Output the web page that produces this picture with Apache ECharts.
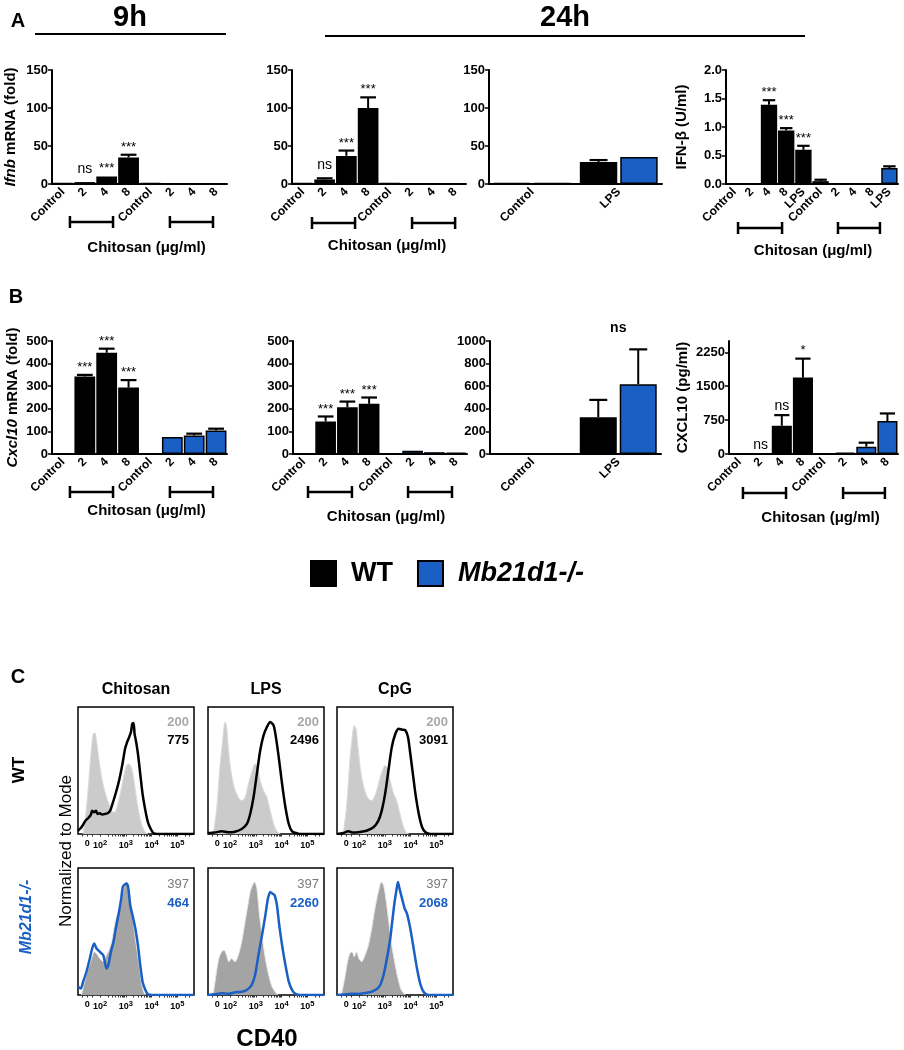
<!DOCTYPE html>
<html><head><meta charset="utf-8">
<script src="https://cdn.jsdelivr.net/npm/echarts@6/dist/echarts.min.js"></script>
<style>html,body{margin:0;padding:0;background:#fff}#c{width:904px;height:1050px}</style>
</head><body><div id="c"></div>
<script>
// ---------------- DATA ----------------
const catsDose = ['Control','2','4','8','Control','2','4','8'];
const catsDoseLPS = ['Control','2','4','8','LPS','Control','2','4','8','LPS'];
const catsCtrlLPS = ['Control','LPS'];

// A - Ifnb mRNA 9h
const ifnb9hWT     = [1, 2.5, 10, 35, '-', '-', '-', '-'];
const ifnb9hWTErr  = [1.2, 3, 11, 38.5, '-', '-', '-', '-'];
const ifnb9hKO     = ['-', '-', '-', '-', 1, 0.7, 0.7, 0.7];
const ifnb9hSig    = ['', 'ns', '***', '***', '', '', '', ''];
// A - Ifnb mRNA 24h chitosan
const ifnb24hWT    = [1, 6, 37, 100, '-', '-', '-', '-'];
const ifnb24hWTErr = [1.2, 7.5, 44, 114, '-', '-', '-', '-'];
const ifnb24hKO    = ['-', '-', '-', '-', 1, 0.7, 0.7, 0.7];
const ifnb24hSig   = ['', 'ns', '***', '***', '', '', '', ''];
// A - Ifnb mRNA 24h LPS
const ifnbLpsWT    = [1, 29];
const ifnbLpsWTErr = [1.2, 31.5];
const ifnbLpsKO    = [1, 35.5];
const ifnbLpsKOErr = [1.2, 36.3];
// A - IFN-beta protein
const ifnbProtWT    = [0, 0, 1.39, 0.94, 0.60, '-', '-', '-', '-', '-'];
const ifnbProtWTErr = [0, 0, 1.47, 0.98, 0.67, '-', '-', '-', '-', '-'];
const ifnbProtKO    = ['-', '-', '-', '-', '-', 0.05, 0, 0, 0, 0.28];
const ifnbProtKOErr = ['-', '-', '-', '-', '-', 0.075, 0, 0, 0, 0.31];
const ifnbProtSig   = ['', '', '***', '***', '***', '', '', '', '', ''];
// B - Cxcl10 mRNA 9h
const cxcl9hWT     = [2, 343, 448, 294, '-', '-', '-', '-'];
const cxcl9hWTErr  = [2, 350, 466, 327, '-', '-', '-', '-'];
const cxcl9hKO     = ['-', '-', '-', '-', 2, 75, 82, 104];
const cxcl9hKOErr  = ['-', '-', '-', '-', 2, 78, 90, 112];
const cxcl9hSig    = ['', '***', '***', '***', '', '', '', ''];
// B - Cxcl10 mRNA 24h chitosan
const cxcl24hWT    = [1, 144, 207, 222, '-', '-', '-', '-'];
const cxcl24hWTErr = [1, 166, 232, 250, '-', '-', '-', '-'];
const cxcl24hKO    = ['-', '-', '-', '-', 1, 14, 8, 6];
const cxcl24hKOErr = ['-', '-', '-', '-', 1, 17, 11, 8];
const cxcl24hSig   = ['', '***', '***', '***', '', '', '', ''];
// B - Cxcl10 mRNA 24h LPS
const cxclLpsWT    = [0, 326];
const cxclLpsWTErr = [0, 479];
const cxclLpsKO    = [0, 618];
const cxclLpsKOErr = [0, 926];
const cxclLpsSig   = ['', 'ns'];
// B - CXCL10 protein
const cxclProtWT    = [0, 0, 625, 1690, '-', '-', '-', '-'];
const cxclProtWTErr = [0, 0, 860, 2110, '-', '-', '-', '-'];
const cxclProtKO    = ['-', '-', '-', '-', 0, 30, 162, 728];
const cxclProtKOErr = ['-', '-', '-', '-', 0, 45, 250, 897];
const cxclProtSig   = ['', 'ns', 'ns', '*', '', '', '', ''];

// C - CD40 histograms: [log10 decade position, % of mode]
const histTickValues = [1.5, 2, 3, 4, 5];
const histTickLabels = ['0', '2', '3', '4', '5'];
const wtChitosanUnstim = [[1.34,0],[1.43,13.2],[1.54,36.8],[1.64,63.2],[1.73,78.9],[1.80,79.5],[1.86,73.7],[1.95,59.2],[2.06,44.7],[2.19,32.9],[2.32,25],[2.45,18.4],[2.56,17.1],[2.65,21.1],[2.78,31.6],[2.91,44.7],[3.00,52.6],[3.10,55.3],[3.21,52.6],[3.30,44.7],[3.41,28.9],[3.52,15.8],[3.63,6.6],[3.76,1.3],[3.86,0]];
const wtChitosanStim = [[1.14,2.6],[1.25,4.7],[1.34,7.4],[1.43,10.5],[1.54,12.6],[1.64,15.3],[1.69,18.4],[1.77,17.1],[1.84,18.4],[1.90,15.8],[1.99,16.3],[2.09,15.3],[2.19,15.8],[2.29,16.3],[2.39,18.4],[2.48,23.7],[2.58,30.3],[2.69,38.2],[2.78,46.1],[2.87,55.3],[2.97,67.1],[3.05,72.4],[3.13,76.3],[3.20,80.3],[3.25,86.8],[3.30,87.4],[3.34,78.9],[3.39,73.7],[3.47,63.2],[3.56,47.4],[3.65,31.6],[3.76,18.4],[3.86,9.2],[3.97,3.9],[4.08,0.5],[4.22,0],[5.65,0]];
const wtLpsUnstim = [[1.34,0],[1.47,18.4],[1.60,52.6],[1.71,73.7],[1.80,88.2],[1.86,85.5],[1.93,68.4],[2.03,50],[2.16,36.8],[2.32,28.9],[2.45,26.3],[2.58,28.9],[2.71,39.5],[2.84,48.7],[2.97,55.3],[3.08,52.6],[3.17,42.1],[3.30,34.2],[3.43,28.9],[3.56,18.4],[3.69,7.9],[3.82,2.1],[3.95,0]];
const wtLpsStim = [[1.14,0.5],[1.40,1.1],[1.67,2.1],[1.93,1.3],[2.19,1.8],[2.45,3.9],[2.65,7.9],[2.78,15.8],[2.91,28.9],[3.04,47.4],[3.17,65.8],[3.30,77.6],[3.43,84.2],[3.56,88.2],[3.69,85.5],[3.78,76.3],[3.89,60.5],[4.02,39.5],[4.15,21.1],[4.28,7.9],[4.41,2.1],[4.61,0.5],[4.80,0],[5.65,0]];
const wtCpgUnstim = [[1.38,0],[1.51,21.1],[1.64,57.9],[1.73,76.3],[1.81,85.5],[1.88,82.9],[1.97,65.8],[2.07,48.7],[2.20,35.5],[2.36,27.6],[2.49,26.3],[2.62,30.3],[2.75,39.5],[2.88,48.7],[3.01,53.9],[3.12,51.3],[3.21,42.1],[3.34,31.6],[3.44,27.6],[3.56,18.4],[3.69,7.9],[3.82,1.3],[3.93,0]];
const wtCpgStim = [[1.14,0],[1.38,0.8],[1.58,2.1],[1.77,1.1],[2.03,1.6],[2.29,2.6],[2.56,5.3],[2.75,10.5],[2.88,18.4],[3.01,31.6],[3.14,50],[3.27,68.4],[3.41,78.9],[3.54,82.9],[3.67,82.1],[3.80,81.6],[3.90,76.3],[3.99,63.2],[4.09,47.4],[4.19,31.6],[4.32,15.8],[4.45,5.3],[4.58,1.3],[4.78,0],[5.65,0]];
const koChitosanUnstim = [[1.27,0],[1.40,10.5],[1.54,20.9],[1.67,28.8],[1.77,34],[1.86,32.7],[1.99,28.8],[2.12,26.2],[2.25,31.4],[2.32,34],[2.45,41.9],[2.56,55],[2.65,62.8],[2.74,65.4],[2.84,75.9],[2.95,86.4],[3.04,86.9],[3.13,81.2],[3.24,65.4],[3.37,44.5],[3.50,26.2],[3.60,10.5],[3.69,2.6],[3.76,0]];
const koChitosanStim = [[1.14,6.5],[1.25,5.2],[1.34,10.5],[1.47,18.3],[1.60,28.8],[1.69,36.6],[1.77,40.6],[1.86,36.6],[1.99,34],[2.12,31.4],[2.25,20.9],[2.32,23.6],[2.42,34],[2.52,41.9],[2.61,52.4],[2.71,62.8],[2.82,75.9],[2.88,85.1],[2.95,86.9],[3.04,87.7],[3.10,83.8],[3.17,70.7],[3.26,62.8],[3.37,52.4],[3.47,39.3],[3.56,23.6],[3.65,10.5],[3.76,3.9],[3.86,0.5],[4.02,0],[5.65,0]];
const koLpsUnstim = [[1.34,0],[1.47,18.3],[1.56,28.8],[1.67,34],[1.77,35.3],[1.86,31.4],[1.95,26.2],[2.06,28.8],[2.19,26.2],[2.32,31.4],[2.45,41.9],[2.58,57.6],[2.69,70.7],[2.78,81.2],[2.87,86.4],[2.95,89],[3.04,83.8],[3.13,65.4],[3.24,47.1],[3.37,28.8],[3.50,15.7],[3.63,6.5],[3.76,2.1],[3.86,0]];
const koLpsStim = [[1.14,0],[1.40,0.5],[1.67,1.3],[1.93,1],[2.19,2.1],[2.45,2.6],[2.65,3.9],[2.84,7.9],[2.97,15.7],[3.10,31.4],[3.24,47.1],[3.37,62.8],[3.47,75.9],[3.56,81.2],[3.65,79.8],[3.73,78.5],[3.82,70.7],[3.91,55],[4.02,39.3],[4.15,23.6],[4.28,10.5],[4.41,3.9],[4.54,1],[4.74,0],[5.65,0]];
const koCpgUnstim = [[1.31,0],[1.44,13.1],[1.55,26.2],[1.64,32.7],[1.73,34],[1.81,30.1],[1.90,34],[1.99,28.8],[2.10,26.2],[2.23,31.4],[2.36,39.3],[2.49,52.4],[2.59,65.4],[2.69,75.9],[2.78,83.8],[2.86,89],[2.95,86.4],[3.04,75.9],[3.14,60.2],[3.25,41.9],[3.38,26.2],[3.51,13.1],[3.64,3.9],[3.80,0]];
const koCpgStim = [[1.14,0],[1.44,0.5],[1.71,1],[1.97,0.8],[2.23,1.6],[2.49,2.6],[2.69,4.7],[2.82,7.9],[2.95,15.7],[3.08,28.8],[3.21,44.5],[3.30,60.2],[3.38,73.3],[3.44,81.2],[3.51,89],[3.57,83.8],[3.67,75.9],[3.77,68.1],[3.86,64.1],[3.99,52.4],[4.12,36.6],[4.25,20.9],[4.39,7.9],[4.52,2.1],[4.71,0],[5.65,0]];
const histTitles = ['Chitosan', 'LPS', 'CpG'];
const mfiWTUnstim = [200, 200, 200];
const mfiWTStim   = [775, 2496, 3091];
const mfiKOUnstim = [397, 397, 397];
const mfiKOStim   = [464, 2260, 2068];

// ---------------- STYLE / LAYOUT ----------------
const FF = '"Liberation Sans", Arial, Helvetica, sans-serif';
const BLACK = '#000000';
const BLUE = '#1a5fc4';
const chart = echarts.init(document.getElementById('c'), null, {renderer: 'canvas'});

const barGrids = [
  {left: 52,  top: 70,  width: 175, height: 114},
  {left: 292, top: 70,  width: 174, height: 114},
  {left: 489, top: 70,  width: 173, height: 114},
  {left: 726, top: 70,  width: 172, height: 114},
  {left: 52,  top: 341, width: 175, height: 113},
  {left: 293, top: 341, width: 174, height: 113},
  {left: 490, top: 341, width: 171, height: 113},
  {left: 729, top: 341, width: 169, height: 113}
];
const histGrids = [
  {left: 78,  top: 707, width: 116, height: 127},
  {left: 208, top: 707, width: 116, height: 127},
  {left: 337, top: 707, width: 116, height: 127},
  {left: 78,  top: 868, width: 116, height: 127},
  {left: 208, top: 868, width: 116, height: 127},
  {left: 337, top: 868, width: 116, height: 127}
];

const grids = [];
const xAxes = [];
const yAxes = [];
const series = [];
const graphics = [];

function catX(cats, nameCfg) {
  const ax = {
    type: 'category', data: cats, boundaryGap: true,
    axisLine: {lineStyle: {color: BLACK, width: 2}},
    axisTick: {alignWithLabel: true, length: 4, lineStyle: {color: BLACK, width: 1.5}},
    axisLabel: {rotate: 45, interval: 0, margin: 6, color: BLACK, fontWeight: 'bold', fontSize: 12, fontFamily: FF},
    splitLine: {show: false}
  };
  if (nameCfg) {
    Object.assign(ax, {
      name: 'Chitosan (\u03bcg/ml)', nameLocation: 'middle', nameGap: nameCfg.gap,
      nameTextStyle: {fontWeight: 'bold', fontSize: 15, fontFamily: FF, color: BLACK, padding: [0, 0, 0, nameCfg.shift || 0]}
    });
  }
  return ax;
}
function valY(min, max, interval, nameCfg, extra) {
  const ax = {
    type: 'value', min, max, interval,
    axisLine: {show: true, lineStyle: {color: BLACK, width: 2}},
    axisTick: {show: true, length: 4, lineStyle: {color: BLACK, width: 1.5}},
    axisLabel: {color: BLACK, fontWeight: 'bold', fontSize: 13, fontFamily: FF, margin: 4, formatter: v => String(v)},
    splitLine: {show: false}
  };
  if (nameCfg) {
    Object.assign(ax, {
      name: nameCfg.text, nameLocation: 'middle', nameGap: nameCfg.gap, nameRotate: 90,
      nameTextStyle: {fontWeight: 'bold', fontSize: 15, fontFamily: FF, color: BLACK,
        rich: {i: {fontStyle: 'italic', fontWeight: 'bold', fontSize: 15, fontFamily: FF, color: BLACK}}}
    });
  }
  if (extra) Object.assign(ax, extra);
  return ax;
}
function barS(name, gi, data, color, stack, gaps) {
  const s = {
    type: 'bar', name, xAxisIndex: gi, yAxisIndex: gi, data,
    itemStyle: {color, borderColor: BLACK, borderWidth: 1.5},
    barCategoryGap: gaps.cat, z: 2, silent: true
  };
  if (stack) s.stack = stack + '_' + gi;
  if (gaps.bar) s.barGap = gaps.bar;
  return s;
}
// error bars + significance marks
function errS(gi, vals, errs, sig, opt) {
  const data = [];
  vals.forEach((v, i) => { if (v !== '-') data.push([i, v, (errs && errs[i] !== '-') ? errs[i] : v]); });
  return {
    type: 'custom', xAxisIndex: gi, yAxisIndex: gi, data, z: 5, clip: false, silent: true,
    renderItem(params, api) {
      const i = api.value(0), v = api.value(1), e = api.value(2);
      const band = api.size([1, 0])[0];
      let bw = band * 0.95, off = 0;
      if (opt.pair) { bw = band * 0.9 / 2.08; off = opt.side * bw * 0.54; }
      const cx = api.coord([i, 0])[0];
      const x = cx + off;
      const yv = api.coord([i, v])[1], ye = api.coord([i, e])[1];
      const ch = [];
      if (ye < yv - 0.8) {
        ch.push({type: 'line', shape: {x1: x, y1: yv, x2: x, y2: ye}, style: {stroke: BLACK, lineWidth: 2}});
        const cw = Math.min(bw * 0.38, 9);
        ch.push({type: 'line', shape: {x1: x - cw, y1: ye, x2: x + cw, y2: ye}, style: {stroke: BLACK, lineWidth: 2.2}});
      }
      const s = sig ? sig[i] : '';
      if (s) {
        const isNs = s === 'ns';
        const font = (opt.boldSig ? 'bold ' : '') + (isNs ? '14px ' : '13px ') + FF;
        ch.push({type: 'text', x: opt.pair ? cx : x, y: ye - (opt.sigGap != null ? opt.sigGap : (isNs ? 6 : 1)),
          style: {text: s, fill: BLACK, font, align: 'center', verticalAlign: 'bottom', textAlign: 'center', textVerticalAlign: 'bottom'}});
      }
      return {type: 'group', children: ch};
    }
  };
}
// brackets under rotated dose labels (fractional category positions)
function bracketS(gi, spans, dy) {
  return {
    type: 'custom', xAxisIndex: gi, yAxisIndex: gi, data: spans.map(() => [0, 0]), z: 5, clip: false, silent: true,
    renderItem(params, api) {
      const br = spans[params.dataIndex];
      const band = api.size([1, 0])[0];
      const p0 = api.coord([0, 0]);
      const xa = p0[0] + br[0] * band, xb = p0[0] + br[1] * band, y = p0[1] + dy;
      const st = {stroke: BLACK, lineWidth: 2.5};
      return {type: 'group', children: [
        {type: 'line', shape: {x1: xa, y1: y, x2: xb, y2: y}, style: st},
        {type: 'line', shape: {x1: xa, y1: y - 6, x2: xa, y2: y + 6}, style: st},
        {type: 'line', shape: {x1: xb, y1: y - 6, x2: xb, y2: y + 6}, style: st}
      ]};
    }
  };
}

const gapSingle = {cat: '5%'};
const gapPair = {cat: '10%', bar: '8%'};

barGrids.forEach(g => grids.push(Object.assign({containLabel: false}, g)));
// ---- A1 ----
xAxes.push(catX(catsDose, {gap: 56, shift: 14}));
yAxes.push(valY(0, 150, 50, {text: '{i|Ifnb} mRNA (fold)', gap: 34}));
series.push(barS('WT', 0, ifnb9hWT, BLACK, 'g', gapSingle), barS('Mb21d1-/-', 0, ifnb9hKO, BLUE, 'g', gapSingle));
series.push(errS(0, ifnb9hWT, ifnb9hWTErr, ifnb9hSig, {}), bracketS(0, [[0.32, 2.29], [4.89, 6.86]], 38));
// ---- A2 ----
xAxes.push(catX(catsDose, {gap: 54, shift: 16}));
yAxes.push(valY(0, 150, 50));
series.push(barS('WT', 1, ifnb24hWT, BLACK, 'g', gapSingle), barS('Mb21d1-/-', 1, ifnb24hKO, BLUE, 'g', gapSingle));
series.push(errS(1, ifnb24hWT, ifnb24hWTErr, ifnb24hSig, {}), bracketS(1, [[0.42, 2.4], [5.02, 7.0]], 39));
// ---- A3 ----
xAxes.push(catX(catsCtrlLPS));
yAxes.push(valY(0, 150, 50));
series.push(barS('WT', 2, ifnbLpsWT, BLACK, null, gapPair), barS('Mb21d1-/-', 2, ifnbLpsKO, BLUE, null, gapPair));
series.push(errS(2, ifnbLpsWT, ifnbLpsWTErr, null, {pair: true, side: -1}), errS(2, ifnbLpsKO, ifnbLpsKOErr, null, {pair: true, side: 1}));
// ---- A4 ----
xAxes.push(catX(catsDoseLPS, {gap: 59, shift: 2}));
yAxes.push(valY(0, 2, 0.5, {text: 'IFN-\u03b2 (U/ml)', gap: 37}, {axisLabel: {color: BLACK, fontWeight: 'bold', fontSize: 13, fontFamily: FF, margin: 4, formatter: v => v.toFixed(1)}}));
series.push(barS('WT', 3, ifnbProtWT, BLACK, 'g', gapSingle), barS('Mb21d1-/-', 3, ifnbProtKO, BLUE, 'g', gapSingle));
series.push(errS(3, ifnbProtWT, ifnbProtWTErr, ifnbProtSig, {}), errS(3, ifnbProtKO, ifnbProtKOErr, null, {}), bracketS(3, [[0.2, 2.76], [6.01, 8.45]], 44));
// ---- B1 ----
xAxes.push(catX(catsDose, {gap: 49, shift: 14}));
yAxes.push(valY(0, 500, 100, {text: '{i|Cxcl10} mRNA (fold)', gap: 32}));
series.push(barS('WT', 4, cxcl9hWT, BLACK, 'g', gapSingle), barS('Mb21d1-/-', 4, cxcl9hKO, BLUE, 'g', gapSingle));
series.push(errS(4, cxcl9hWT, cxcl9hWTErr, cxcl9hSig, {}), errS(4, cxcl9hKO, cxcl9hKOErr, null, {}), bracketS(4, [[0.32, 2.29], [4.89, 6.86]], 38));
// ---- B2 ----
xAxes.push(catX(catsDose, {gap: 55, shift: 12}));
yAxes.push(valY(0, 500, 100));
series.push(barS('WT', 5, cxcl24hWT, BLACK, 'g', gapSingle), barS('Mb21d1-/-', 5, cxcl24hKO, BLUE, 'g', gapSingle));
series.push(errS(5, cxcl24hWT, cxcl24hWTErr, cxcl24hSig, {}), errS(5, cxcl24hKO, cxcl24hKOErr, null, {}), bracketS(5, [[0.19, 2.21], [4.79, 6.81]], 38));
// ---- B3 ----
xAxes.push(catX(catsCtrlLPS));
yAxes.push(valY(0, 1000, 200));
series.push(barS('WT', 6, cxclLpsWT, BLACK, null, gapPair), barS('Mb21d1-/-', 6, cxclLpsKO, BLUE, null, gapPair));
series.push(errS(6, cxclLpsWT, cxclLpsWTErr, null, {pair: true, side: -1}), errS(6, cxclLpsKO, cxclLpsKOErr, cxclLpsSig, {pair: true, side: 1, boldSig: true, sigGap: 14}));
// ---- B4 ----
xAxes.push(catX(catsDose, {gap: 56, shift: 14}));
yAxes.push(valY(0, 2500, 750, {text: 'CXCL10 (pg/ml)', gap: 39}, {
  axisLabel: {color: BLACK, fontWeight: 'bold', fontSize: 13, fontFamily: FF, margin: 4, customValues: [0, 750, 1500, 2250], formatter: v => String(v)},
  axisTick: {show: true, length: 4, lineStyle: {color: BLACK, width: 1.5}, customValues: [0, 750, 1500, 2250]}
}));
series.push(barS('WT', 7, cxclProtWT, BLACK, 'g', gapSingle), barS('Mb21d1-/-', 7, cxclProtKO, BLUE, 'g', gapSingle));
series.push(errS(7, cxclProtWT, cxclProtWTErr, cxclProtSig, {sigGap: 2}), errS(7, cxclProtKO, cxclProtKOErr, null, {}), bracketS(7, [[0.16, 2.2], [4.9, 6.88]], 39));

// ---- C histograms ----
const histMinor = [1.3, 1.7];
for (let d = 2; d <= 5; d++) for (let k = 1; k <= 9; k++) { const t = d + Math.log10(k); if (t < 5.6) histMinor.push(t); }
histMinor.push(1.5);
const histSets = [
  [wtChitosanUnstim, wtChitosanStim], [wtLpsUnstim, wtLpsStim], [wtCpgUnstim, wtCpgStim],
  [koChitosanUnstim, koChitosanStim], [koLpsUnstim, koLpsStim], [koCpgUnstim, koCpgStim]
];
histGrids.forEach((g, k) => {
  const gi = 8 + k;
  grids.push(Object.assign({show: true, borderColor: BLACK, borderWidth: 1.5, backgroundColor: 'transparent'}, g));
  xAxes.push({
    type: 'value', gridIndex: gi, min: 1.14, max: 5.65,
    axisLine: {show: false}, splitLine: {show: false},
    axisTick: {show: true, inside: false, length: 2.5, customValues: histMinor, lineStyle: {color: '#333', width: 1}},
    axisLabel: {
      customValues: histTickValues, margin: 5, color: BLACK,
      formatter: v => { const idx = histTickValues.indexOf(v); const lab = histTickLabels[idx]; return lab === '0' ? '{n|0}' : '{n|10}{s|' + lab + '}'; },
      rich: {
        n: {fontSize: 9, fontWeight: 'bold', fontFamily: FF, color: BLACK},
        s: {fontSize: 7.5, fontWeight: 'bold', fontFamily: FF, color: BLACK, verticalAlign: 'top', padding: [0, 0, 6, 0]}
      }
    }
  });
  yAxes.push({type: 'value', gridIndex: gi, min: 0, max: 100, show: false, splitLine: {show: false}});
  const isKO = k >= 3;
  series.push({
    type: 'line', name: 'unstim' + k, xAxisIndex: gi, yAxisIndex: gi, data: histSets[k][0],
    showSymbol: false, symbol: 'none', smooth: 0.25, silent: true, z: 2,
    lineStyle: {color: isKO ? '#e6e6e6' : '#dcdcdc', width: 1},
    areaStyle: {color: isKO ? '#a4a4a4' : '#cbcbcb', opacity: 1}
  });
  series.push({
    type: 'line', name: 'stim' + k, xAxisIndex: gi, yAxisIndex: gi, data: histSets[k][1],
    showSymbol: false, symbol: 'none', smooth: 0.25, silent: true, z: 3,
    lineStyle: {color: isKO ? BLUE : BLACK, width: 2.5}
  });
  // MFI labels
  const col = k % 3;
  const rx = g.left + g.width - 5;
  graphics.push({type: 'text', x: rx, y: g.top + (isKO ? 16 : 15), silent: true,
    style: {text: String(isKO ? mfiKOUnstim[col] : mfiWTUnstim[col]), font: (isKO ? '' : 'bold ') + '13px ' + FF,
      fill: isKO ? '#7a7a7a' : '#a9a9a9', align: 'right', verticalAlign: 'middle', textAlign: 'right', textVerticalAlign: 'middle'}});
  graphics.push({type: 'text', x: rx, y: g.top + (isKO ? 35 : 33), silent: true,
    style: {text: String(isKO ? mfiKOStim[col] : mfiWTStim[col]), font: 'bold 13px ' + FF,
      fill: isKO ? BLUE : BLACK, align: 'right', verticalAlign: 'middle', textAlign: 'right', textVerticalAlign: 'middle'}});
  if (!isKO) {
    graphics.push({type: 'text', x: g.left + g.width / 2, y: 690, silent: true,
      style: {text: histTitles[col], font: 'bold 16px ' + FF, fill: BLACK, align: 'center', verticalAlign: 'middle', textAlign: 'center', textVerticalAlign: 'middle'}});
  }
});

// ---- static text / annotations ----
function txt(text, x, y, font, fill, rot, align) {
  return {type: 'text', x, y, rotation: rot || 0, silent: true,
    style: {text, font, fill: fill || BLACK, align: align || 'center', verticalAlign: 'middle', textAlign: align || 'center', textVerticalAlign: 'middle'}};
}
graphics.push(
  txt('A', 18, 21, 'bold 20px ' + FF),
  txt('9h', 130, 18, 'bold 29px ' + FF),
  txt('24h', 565, 18, 'bold 29px ' + FF),
  {type: 'line', silent: true, shape: {x1: 35, y1: 34, x2: 226, y2: 34}, style: {stroke: BLACK, lineWidth: 2}},
  {type: 'line', silent: true, shape: {x1: 325, y1: 36, x2: 805, y2: 36}, style: {stroke: BLACK, lineWidth: 2}},
  txt('B', 16, 297, 'bold 20px ' + FF),
  txt('C', 18, 677, 'bold 20px ' + FF),
  txt('WT', 19, 770, 'bold 17px ' + FF, BLACK, Math.PI / 2),
  txt('Mb21d1-/-', 27, 917, 'italic bold 16px ' + FF, BLUE, Math.PI / 2),
  txt('Normalized to Mode', 66, 851, '17px ' + FF, BLACK, Math.PI / 2),
  txt('CD40', 267, 1039, 'bold 24px ' + FF)
);

chart.setOption({
  animation: false,
  backgroundColor: '#ffffff',
  textStyle: {fontFamily: FF},
  legend: {
    data: ['WT', 'Mb21d1-/-'], left: 305, top: 555, itemWidth: 25, itemHeight: 25, itemGap: 24,
    icon: 'rect', selectedMode: false,
    itemStyle: {borderColor: BLACK, borderWidth: 2},
    formatter: n => n === 'WT' ? '{w|WT}' : '{k|Mb21d1-/-}',
    textStyle: {padding: [0, 0, 0, 10], rich: {
      w: {fontSize: 27, fontWeight: 'bold', fontFamily: FF, color: BLACK},
      k: {fontSize: 27, fontWeight: 'bold', fontStyle: 'italic', fontFamily: FF, color: BLACK}
    }}
  },
  grid: grids,
  xAxis: xAxes.map((a, i) => Object.assign({gridIndex: i}, a)),
  yAxis: yAxes.map((a, i) => Object.assign({gridIndex: i}, a)),
  series,
  graphic: {elements: graphics}
});
</script>
</body></html>
